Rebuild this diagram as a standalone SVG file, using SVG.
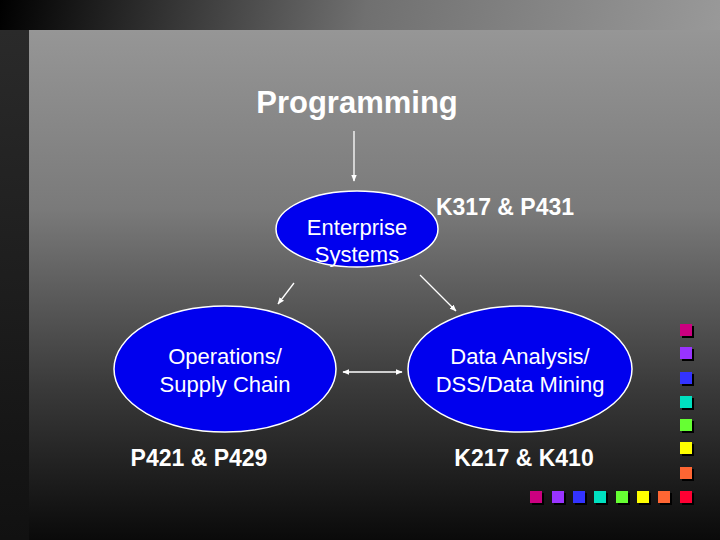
<svg xmlns="http://www.w3.org/2000/svg" width="720" height="540" viewBox="0 0 720 540">
<defs>
<linearGradient id="bg" x1="0" y1="0" x2="1" y2="0.15"><stop offset="0" stop-color="#000"/><stop offset="0.5" stop-color="#707070"/><stop offset="1" stop-color="#9a9a9a"/></linearGradient>
<linearGradient id="bgl" x1="0" y1="0" x2="0" y2="1"><stop offset="0" stop-color="#2a2a2a"/><stop offset="1" stop-color="#111"/></linearGradient>
<linearGradient id="panel" x1="0" y1="0" x2="0" y2="1"><stop offset="0" stop-color="#969696"/><stop offset="0.35" stop-color="#7a7a7a"/><stop offset="0.7" stop-color="#3a3a3a"/><stop offset="1" stop-color="#0a0a0a"/></linearGradient>
<marker id="ah" viewBox="0 0 10 10" refX="9" refY="5" markerWidth="7" markerHeight="7" orient="auto-start-reverse" markerUnits="userSpaceOnUse"><path d="M0,1 L10,5 L0,9 Z" fill="#fff"/></marker>
</defs>
<style>
.node{fill:#0000ee;stroke:#fff;stroke-width:1.5}
.t{font-family:"Liberation Sans",Arial,sans-serif;fill:#fff;text-anchor:middle}
.lbl{font-size:22px}
.b{font-size:23px;font-weight:bold}
.c line{stroke:#fff;stroke-width:1.3;marker-end:url(#ah)}
.sh{fill:#000}
</style>
<rect width="720" height="540" fill="url(#bg)"/>
<rect x="0" y="30" width="29" height="510" fill="url(#bgl)"/>
<rect x="29" y="30" width="691" height="510" fill="url(#panel)"/>
<text class="t" x="357" y="113" font-size="31" font-weight="bold">Programming</text>
<g class="c">
<line x1="354" y1="131" x2="354" y2="181"/>
<line x1="294" y1="283" x2="278" y2="304"/>
<line x1="420" y1="275" x2="456" y2="311"/>
<line x1="343" y1="372" x2="402" y2="372" style="marker-start:url(#ah)"/>
</g>
<g id="enterprise"><ellipse class="node" cx="357" cy="229" rx="81" ry="38"/><text class="t lbl" x="357" y="235">Enterprise</text><text class="t lbl" x="357" y="262">Systems</text></g>
<g id="operations"><ellipse class="node" cx="225" cy="369" rx="111" ry="63"/><text class="t lbl" x="225" y="364">Operations/</text><text class="t lbl" x="225" y="392">Supply Chain</text></g>
<g id="data"><ellipse class="node" cx="520" cy="369" rx="112" ry="63"/><text class="t lbl" x="520" y="364">Data Analysis/</text><text class="t lbl" x="520" y="392">DSS/Data Mining</text></g>
<text class="t b" x="505" y="215">K317 &amp; P431</text>
<text class="t b" x="199" y="466">P421 &amp; P429</text>
<text class="t b" x="524" y="466">K217 &amp; K410</text>
<g id="squares">
<g transform="translate(680,324)"><rect class="sh" x="2" y="2" width="12" height="12"/><rect width="12" height="12" fill="#cc0080"/></g>
<g transform="translate(680,347)"><rect class="sh" x="2" y="2" width="12" height="12"/><rect width="12" height="12" fill="#9933ff"/></g>
<g transform="translate(680,372)"><rect class="sh" x="2" y="2" width="12" height="12"/><rect width="12" height="12" fill="#3333ff"/></g>
<g transform="translate(680,396)"><rect class="sh" x="2" y="2" width="12" height="12"/><rect width="12" height="12" fill="#00e0c0"/></g>
<g transform="translate(680,419)"><rect class="sh" x="2" y="2" width="12" height="12"/><rect width="12" height="12" fill="#66ff33"/></g>
<g transform="translate(680,442)"><rect class="sh" x="2" y="2" width="12" height="12"/><rect width="12" height="12" fill="#ffff00"/></g>
<g transform="translate(680,467)"><rect class="sh" x="2" y="2" width="12" height="12"/><rect width="12" height="12" fill="#ff6633"/></g>
<g transform="translate(680,491)"><rect class="sh" x="2" y="2" width="12" height="12"/><rect width="12" height="12" fill="#ff0033"/></g>
<g transform="translate(530,491)"><rect class="sh" x="2" y="2" width="12" height="12"/><rect width="12" height="12" fill="#cc0080"/></g>
<g transform="translate(552,491)"><rect class="sh" x="2" y="2" width="12" height="12"/><rect width="12" height="12" fill="#9933ff"/></g>
<g transform="translate(573,491)"><rect class="sh" x="2" y="2" width="12" height="12"/><rect width="12" height="12" fill="#3333ff"/></g>
<g transform="translate(594,491)"><rect class="sh" x="2" y="2" width="12" height="12"/><rect width="12" height="12" fill="#00e0c0"/></g>
<g transform="translate(616,491)"><rect class="sh" x="2" y="2" width="12" height="12"/><rect width="12" height="12" fill="#66ff33"/></g>
<g transform="translate(637,491)"><rect class="sh" x="2" y="2" width="12" height="12"/><rect width="12" height="12" fill="#ffff00"/></g>
<g transform="translate(658,491)"><rect class="sh" x="2" y="2" width="12" height="12"/><rect width="12" height="12" fill="#ff6633"/></g>
</g>
</svg>
